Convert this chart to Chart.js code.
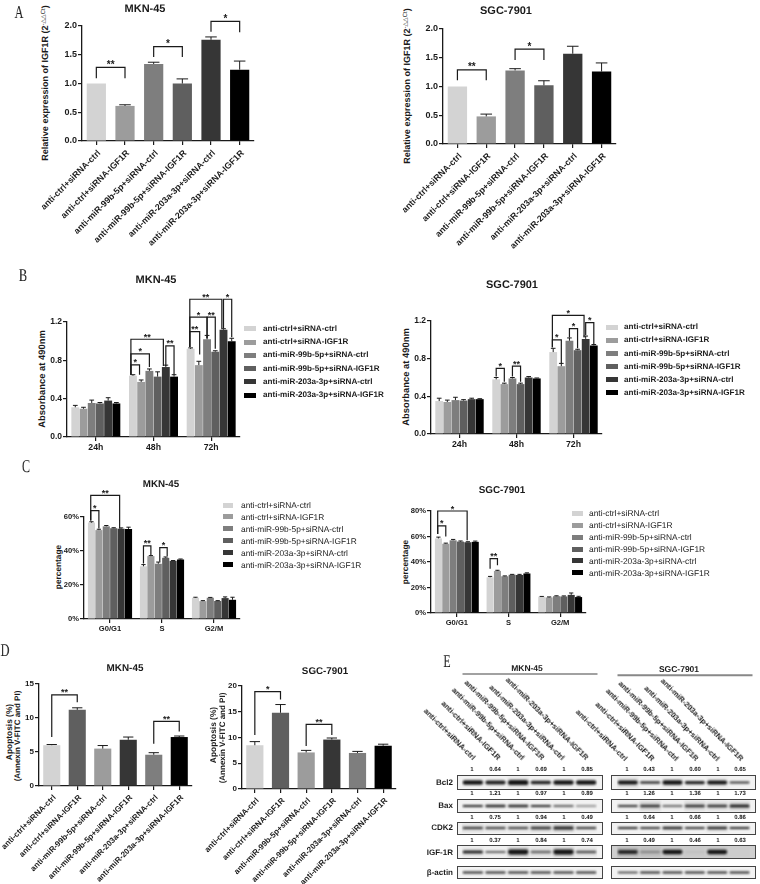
<!DOCTYPE html>
<html>
<head>
<meta charset="utf-8">
<title>IGF1R figure</title>
<script src="https://cdn.jsdelivr.net/npm/chart.js@4"></script>
<style>
html, body { margin: 0; padding: 0; background: #fff; }
#page { position: relative; width: 760px; height: 884px; overflow: hidden; font-family: "Liberation Sans", Arial, sans-serif; color: #1a1a1a; text-rendering: geometricPrecision; }
#page canvas { position: absolute; }
.t { position: absolute; white-space: nowrap; line-height: 1; will-change: transform; }
.t sup { font-size: 6px; font-weight: normal; vertical-align: baseline; position: relative; top: -3px; }
.strip { position: absolute; box-sizing: border-box; border: 1px solid #444; }
.swatch { position: absolute; }
</style>
</head>
<body>
<div id="page"></div>
<script>
// ---- data ----
var groups6 = ['anti-ctrl+siRNA-ctrl', 'anti-ctrl+siRNA-IGF1R', 'anti-miR-99b-5p+siRNA-ctrl', 'anti-miR-99b-5p+siRNA-IGF1R', 'anti-miR-203a-3p+siRNA-ctrl', 'anti-miR-203a-3p+siRNA-IGF1R'];
var hours = ['24h', '48h', '72h'];
var phases = ['G0/G1', 'S', 'G2/M'];
var proteins = ['Bcl2', 'Bax', 'CDK2', 'IGF-1R', 'β-actin'];

// A: qPCR
var a1Values = [1.0, 0.61, 1.34, 1.0, 1.76, 1.24];
var a1Err = [0, 0.02, 0.03, 0.08, 0.05, 0.15];
var a2Values = [1.0, 0.48, 1.28, 1.02, 1.57, 1.26];
var a2Err = [0, 0.04, 0.03, 0.08, 0.13, 0.15];
// brackets: from bar, to bar, top, left leg end, right leg end, stars
var a1Brackets = [[0, 1, 1.28, 1.09, 1.09, '**'], [2, 3, 1.64, 1.46, 1.46, '*'], [4, 5, 2.08, 1.9, 1.89, '*']];
var a2Brackets = [[0, 1, 1.29, 1.11, 1.11, '**'], [2, 3, 1.65, 1.46, 1.46, '*']];

// B: absorbance, one row per series (24h, 48h, 72h)
var b1Values = [[0.31, 0.64, 0.92], [0.295, 0.575, 0.75], [0.355, 0.69, 1.02], [0.35, 0.63, 0.89], [0.38, 0.73, 1.12], [0.35, 0.63, 1.0]];
var b1Err = [[0.02, 0.01, 0.01], [0.015, 0.02, 0.04], [0.03, 0.02, 0.04], [0.01, 0.05, 0.01], [0.03, 0.02, 0.01], [0.01, 0.02, 0.03]];
var b2Values = [[0.35, 0.58, 0.87], [0.34, 0.53, 0.72], [0.36, 0.59, 0.99], [0.355, 0.53, 0.89], [0.37, 0.6, 1.01], [0.37, 0.59, 0.94]];
var b2Err = [[0.03, 0.02, 0.04], [0.02, 0.01, 0.03], [0.03, 0.01, 0.03], [0.01, 0.01, 0.01], [0.01, 0.01, 0.03], [0.005, 0.005, 0.01]];
var b1Brackets = [
    [5.75, 9.7, 1.02, 0.65, 0.74, '**'], [5.75, 8, 0.868, 0.65, 0.73, '*'], [5.75, 6.8, 0.753, 0.65, 0.65, '*'], [10, 11, 0.95, 0.74, 0.65, '**'],
    [11.9, 15.8, 1.4375, 0.94, 1.135, '**'], [11.9, 14, 1.25, 0.94, 1.03, '*'], [11.9, 13.1, 1.1, 0.94, 0.86, '**'], [14, 15, 1.25, 1.03, 0.92, '**'], [16, 17, 1.4375, 1.135, 1.04, '*']
];
var b2Brackets = [
    [6, 7, 0.697, 0.61, 0.556, '*'], [8, 9, 0.72, 0.61, 0.556, '**'],
    [11.9, 15.8, 1.26, 0.92, 1.025, '*'], [11.9, 13, 1.0, 0.92, 0.75, '*'], [14, 15, 1.12, 1.025, 0.91, '*'], [16, 17, 1.183, 1.05, 0.954, '*']
];

// C: cell cycle, one row per series (G0/G1, S, G2/M)
var c1Values = [[56.7, 31, 12.5], [52.3, 37, 10.5], [54.5, 32.5, 12.5], [53.4, 36, 10.6], [53.1, 34.2, 12.3], [53, 35, 11.3]];
var c1Err = [[0.5, 1, 0.3], [0.5, 0.3, 0.3], [0.5, 1, 0.2], [0.3, 0.5, 0.2], [0.5, 0.2, 0.7], [1, 0.3, 1.5]];
var c2Values = [[58.5, 28, 12.8], [54.3, 33, 12.2], [57, 28.8, 13.2], [56, 30, 13], [55.5, 29.8, 14.2], [55.8, 31, 12.5]];
var c2Err = [[1, 0.7, 0.2], [0.5, 0.5, 0.4], [0.7, 0.3, 0.3], [0.5, 0.3, 0.4], [0.4, 0.5, 1.5], [0.6, 0.5, 0.6]];
var c1Brackets = [[-0.1, 3.8, 72.7, 58, 53.3, '**'], [-0.1, 1, 63.7, 58, 53.3, '*'], [6, 7, 43, 32.7, 37.6, '**'], [8.2, 9.2, 42, 33.7, 37, '*']];
var c2Brackets = [[-0.1, 3.9, 80, 62, 57, '*'], [-0.1, 1, 68.4, 62, 60, '*'], [6, 7, 42.6, 34.8, 37.4, '**']];

// D: apoptosis
var d1Values = [6.0, 11.2, 5.5, 6.8, 4.6, 7.2];
var d1Err = [0.1, 0.3, 0.45, 0.4, 0.3, 0.15];
var d2Values = [8.5, 14.8, 7.1, 9.6, 7.0, 8.4];
var d2Err = [0.7, 1.6, 0.4, 0.3, 0.3, 0.3];
var d1Brackets = [[0, 1, 13.4, 7.2, 12.3, '**'], [4, 5, 9.5, 6.2, 8, '**']];
var d2Brackets = [[0, 1, 18.9, 10.5, 17.4, '*'], [2, 3, 12.55, 8.35, 10.5, '**']];

// E: band ratios printed over the blots
var e1Ratios = [['1', '0.64', '1', '0.69', '1', '0.85'], ['1', '1.21', '1', '0.97', '1', '0.89'], ['1', '0.75', '1', '0.94', '1', '0.49'], ['1', '0.37', '1', '0.84', '1', '0.74']];
var e2Ratios = [['1', '0.43', '1', '0.60', '1', '0.65'], ['1', '1.26', '1', '1.36', '1', '1.73'], ['1', '0.64', '1', '0.66', '1', '0.86'], ['1', '0.49', '1', '0.46', '1', '0.63']];
// band thickness and darkness per lane, estimated by eye
var e1Thick = [[0.34, 0.32, 0.4, 0.26, 0.34, 0.36], [0.18, 0.22, 0.2, 0.18, 0.12, 0.1], [0.22, 0.22, 0.22, 0.26, 0.3, 0.2], [0.26, 0.14, 0.4, 0.2, 0.4, 0.2], [0.16, 0.2, 0.18, 0.18, 0.16, 0.18]];
var e1Dark = [[0.95, 0.9, 0.95, 0.9, 0.95, 0.95], [0.9, 0.9, 0.9, 0.9, 0.85, 0.8], [0.85, 0.8, 0.8, 0.85, 0.9, 0.85], [0.9, 0.85, 0.95, 0.6, 0.95, 0.7], [0.9, 0.9, 0.9, 0.9, 0.9, 0.9]];
var e1Haze = [[0, 0, 0.06, 0, 0, 0], [0, 0, 0, 0, 0, 0], [0.1, 0.06, 0.06, 0.1, 0.14, 0.04], [0.05, 0.02, 0.16, 0.08, 0.16, 0.06], [0, 0, 0, 0, 0, 0]];
var e2Thick = [[0.32, 0.18, 0.36, 0.25, 0.32, 0.16], [0.16, 0.22, 0.14, 0.22, 0.2, 0.26], [0.22, 0.18, 0.25, 0.2, 0.26, 0.2], [0.32, 0.18, 0.36, 0.05, 0.36, 0.02], [0.14, 0.16, 0.16, 0.18, 0.16, 0.16]];
var e2Dark = [[0.95, 0.85, 0.95, 0.9, 0.95, 0.85], [0.85, 0.85, 0.8, 0.85, 0.85, 0.9], [0.9, 0.85, 0.9, 0.85, 0.9, 0.9], [0.85, 0.35, 0.95, 0.2, 0.95, 0.1], [0.9, 0.9, 0.9, 0.9, 0.9, 0.9]];
var e2Haze = [[0.08, 0, 0.04, 0, 0.03, 0], [0.02, 0.12, 0.01, 0.1, 0.08, 0.1], [0, 0, 0.03, 0, 0.06, 0], [0.14, 0.1, 0.03, 0.03, 0.03, 0.01], [0, 0, 0, 0, 0, 0]];

// ---- look ----
var greys = ['#d3d3d3', '#9c9c9c', '#7e7e7e', '#5f5f5f', '#363636', '#000000'];
var greysD = ['#d3d3d3', '#5f5f5f', '#9c9c9c', '#363636', '#7e7e7e', '#000000'];
var ink = '#1a1a1a';
var page = document.getElementById('page');

Chart.defaults.font.family = '"Liberation Sans", Arial, sans-serif';
Chart.defaults.color = ink;
Chart.defaults.animation = false;
Chart.defaults.responsive = false;

// whiskers, upward only, taken from dataset.err
var errorBars = {
    id: 'errorBars',
    afterDatasetsDraw: function(chart) {
        var ctx = chart.ctx, y = chart.scales.y;
        ctx.save();
        ctx.strokeStyle = ink;
        ctx.lineWidth = 1;
        chart.data.datasets.forEach(function(ds, i) {
            chart.getDatasetMeta(i).data.forEach(function(bar, j) {
                if (!ds.err[j]) return;
                var top = y.getPixelForValue(ds.data[j] + ds.err[j]);
                var half = bar.width * 0.3;
                ctx.beginPath();
                ctx.moveTo(bar.x, bar.y);
                ctx.lineTo(bar.x, top);
                ctx.moveTo(bar.x - half, top);
                ctx.lineTo(bar.x + half, top);
                ctx.stroke();
            });
        });
        ctx.restore();
    }
};

// significance brackets
var brackets = {
    id: 'brackets',
    afterDraw: function(chart, args, opts) {
        var ctx = chart.ctx, y = chart.scales.y, xs = [];
        var n = chart.data.datasets.length;
        chart.data.labels.forEach(function(l, g) {
            for (var d = 0; d < n; d++) xs.push(chart.getDatasetMeta(d).data[g].x);
        });
        var step = n > 1 ? xs[1] - xs[0] : 0;
        function barX(p) {
            var b = Math.round(p);
            return xs[b] + (p - b) * step;
        }
        ctx.save();
        ctx.strokeStyle = ink;
        ctx.fillStyle = ink;
        ctx.lineWidth = 1.2;
        ctx.textAlign = 'center';
        ctx.textBaseline = 'alphabetic';
        ctx.font = 'bold ' + opts.star + 'px "Liberation Sans"';
        (opts.list || []).forEach(function(b) {
            var x0 = barX(b[0]), x1 = barX(b[1]), top = y.getPixelForValue(b[2]);
            ctx.beginPath();
            ctx.moveTo(x0, y.getPixelForValue(b[3]));
            ctx.lineTo(x0, top);
            ctx.lineTo(x1, top);
            ctx.lineTo(x1, y.getPixelForValue(b[4]));
            ctx.stroke();
            ctx.fillText(b[5], (x0 + x1) / 2, top + 0.5);
        });
        ctx.restore();
    }
};

// soften the blot bands
var blotBlur = {
    id: 'blotBlur',
    beforeDatasetsDraw: function(chart) { chart.ctx.save(); chart.ctx.filter = 'blur(0.8px)'; },
    afterDatasetsDraw: function(chart) { chart.ctx.restore(); }
};

function txt(html, x, y, style, rot, anchor) {
    var d = document.createElement('div');
    d.className = 't';
    d.innerHTML = html;
    d.style.left = x + 'px';
    d.style.top = y + 'px';
    var tx = anchor === 'end' ? '-100%' : '-50%';
    d.style.transformOrigin = anchor === 'end' ? '100% 50%' : '50% 50%';
    d.style.transform = 'translate(' + tx + ',-50%)' + (rot ? ' rotate(' + rot + 'deg)' : '');
    if (rot === -90) d.style.willChange = 'auto'; // axis titles go pale on their own layer
    for (var k in style) d.style[k] = style[k];
    page.appendChild(d);
    return d;
}

function letter(s, x, y) {
    txt(s, x, y, { fontFamily: '"Liberation Serif", serif', fontSize: '18px' }).style.transform += ' scaleX(0.68)';
}

function legend(x, y, gap, swatchW, textX, font) {
    groups6.forEach(function(name, i) {
        var s = document.createElement('div');
        s.className = 'swatch';
        s.style.cssText = 'left:' + x + 'px;top:' + (y + i * gap - 2.5) + 'px;width:' + swatchW + 'px;height:5px;background:' + greys[i];
        page.appendChild(s);
        var t = txt(name, textX, y + i * gap, font);
        t.style.transform = 'translate(0,-50%)';
    });
}

// o: left/right/top/bottom of the plot in page pixels, gutters around it
function barPanel(o) {
    var gl = o.gl || 44, gr = 6, gt = o.gt || 30, gb = o.gb || 100;
    var c = document.createElement('canvas');
    c.width = o.right - o.left + gl + gr;
    c.height = o.bottom - o.top + gt + gb;
    c.style.left = (o.left - gl) + 'px';
    c.style.top = (o.top - gt) + 'px';
    page.appendChild(c);
    new Chart(c, {
        type: 'bar',
        data: { labels: o.labels, datasets: o.datasets },
        plugins: [errorBars, brackets],
        options: {
            layout: { padding: { top: gt, right: gr, left: 0, bottom: 0 } },
            plugins: { legend: { display: false }, tooltip: { enabled: false }, brackets: { list: o.brackets, star: o.star || 10 } },
            scales: {
                x: {
                    afterFit: function(s) { s.height = gb; s.paddingLeft = 0; s.paddingRight = 0; },
                    border: { color: ink, width: 1.3 },
                    grid: { offset: false, drawOnChartArea: false, color: ink, lineWidth: 1.2, tickLength: 4 },
                    ticks: { autoSkip: false, padding: o.rotate ? 3 : 1, labelOffset: o.rotate ? 3 : 0, maxRotation: o.rotate || 0, minRotation: o.rotate || 0, color: ink, font: { size: o.xFont, weight: 'bold' } }
                },
                y: {
                    min: 0, max: o.yMax,
                    afterFit: function(s) { s.width = gl; s.paddingTop = 0; s.paddingBottom = 0; },
                    border: { color: ink, width: 1.3 },
                    grid: { drawOnChartArea: false, color: ink, lineWidth: 1.2, tickLength: 4 },
                    ticks: { stepSize: o.yStep, padding: 1, color: ink, font: { size: o.yFont, weight: 'bold' }, callback: o.yFmt }
                }
            }
        }
    });
}

function single(values, err, colors) {
    return [{ data: values, err: err, backgroundColor: colors, barPercentage: 0.67, categoryPercentage: 1 }];
}
function grouped(values, err) {
    return values.map(function(v, i) {
        return { label: groups6[i], data: v, err: err[i], backgroundColor: greys[i], barPercentage: 0.96, categoryPercentage: 0.855 };
    });
}
function oneDecimal(v) { return v.toFixed(1); }
function pct(v) { return v + '%'; }
function whole(v) { return v; }

// ---- panel A ----
letter('A', 19, 12);
txt('MKN-45', 145, 9, { fontSize: '11px', fontWeight: 'bold' });
txt('Relative expression of IGF1R (2<sup>-△△Ct</sup>)', 45, 83, { fontSize: '9px', fontWeight: 'bold' }, -90);
barPanel({ left: 82, right: 254, top: 26, bottom: 141.7, labels: groups6, datasets: single(a1Values, a1Err, greys), yMax: 2, yStep: 0.5, yFmt: oneDecimal, yFont: 9, xFont: 8.8, rotate: 45, brackets: a1Brackets, gl: 80, gt: 26, gb: 112 });
txt('SGC-7901', 506, 11, { fontSize: '11px', fontWeight: 'bold' });
txt('Relative expression of IGF1R (2<sup>-△△Ct</sup>)', 406.7, 86, { fontSize: '9px', fontWeight: 'bold' }, -90);
barPanel({ left: 442.7, right: 615.7, top: 28.7, bottom: 143.7, labels: groups6, datasets: single(a2Values, a2Err, greys), yMax: 2, yStep: 0.5, yFmt: oneDecimal, yFont: 9, xFont: 8.8, rotate: 45, brackets: a2Brackets, gl: 80, gt: 26, gb: 112 });

// ---- panel B ----
letter('B', 23, 275);
txt('MKN-45', 156, 280, { fontSize: '11px', fontWeight: 'bold' });
txt('Absorbance at 490nm', 42, 379.3, { fontSize: '9.4px', fontWeight: 'bold' }, -90);
barPanel({ left: 67, right: 240.7, top: 322, bottom: 437.3, labels: hours, datasets: grouped(b1Values, b1Err), yMax: 1.2, yStep: 0.4, yFmt: oneDecimal, yFont: 8.5, xFont: 8.7, brackets: b1Brackets, gt: 40, gb: 20, star: 9 });
legend(244, 328.7, 13.3, 12, 263, { fontSize: '8.1px', fontWeight: 'bold' });
txt('SGC-7901', 512, 285, { fontSize: '11px', fontWeight: 'bold' });
txt('Absorbance at 490nm', 406, 376.7, { fontSize: '9.4px', fontWeight: 'bold' }, -90);
barPanel({ left: 430.7, right: 601.7, top: 320.7, bottom: 434.3, labels: hours, datasets: grouped(b2Values, b2Err), yMax: 1.2, yStep: 0.4, yFmt: oneDecimal, yFont: 8.5, xFont: 8.7, brackets: b2Brackets, gt: 40, gb: 20, star: 9 });
legend(606, 327.3, 13.1, 12, 624, { fontSize: '8.1px', fontWeight: 'bold' });

// ---- panel C ----
letter('C', 26, 466);
txt('MKN-45', 161.3, 485, { fontSize: '9.8px', fontWeight: 'bold' });
txt('percentage', 58.3, 567.3, { fontSize: '8.3px', fontWeight: 'bold' }, -90);
barPanel({ left: 84, right: 240, top: 517, bottom: 619, labels: phases, datasets: grouped(c1Values, c1Err), yMax: 60, yStep: 20, yFmt: pct, yFont: 7.6, xFont: 7.6, brackets: c1Brackets, gt: 30, gb: 20, star: 9 });
legend(223, 505, 11.9, 10, 240.7, { fontSize: '8.35px' });
txt('SGC-7901', 501.7, 491, { fontSize: '9.9px', fontWeight: 'bold' });
txt('percentage', 405, 561.7, { fontSize: '8.3px', fontWeight: 'bold' }, -90);
barPanel({ left: 430.7, right: 585.7, top: 510.7, bottom: 612.7, labels: phases, datasets: grouped(c2Values, c2Err), yMax: 80, yStep: 20, yFmt: pct, yFont: 7.6, xFont: 7.6, brackets: c2Brackets, gt: 30, gb: 20, star: 9 });
legend(571.7, 513.3, 11.9, 11, 589, { fontSize: '8.4px' });

// ---- panel D ----
letter('D', 5, 650);
txt('MKN-45', 125, 669, { fontSize: '9.9px', fontWeight: 'bold' });
txt('Apoptosis (%)', 8.7, 732, { fontSize: '8.4px', fontWeight: 'bold' }, -90);
txt('(Annexin V-FITC and PI)', 18.3, 735.7, { fontSize: '8px', fontWeight: 'bold' }, -90);
barPanel({ left: 39, right: 192.7, top: 684, bottom: 786.7, labels: groups6, datasets: single(d1Values, d1Err, greysD), yMax: 15, yStep: 5, yFmt: whole, yFont: 8, xFont: 8, rotate: 45, brackets: d1Brackets, gl: 39, gb: 97, star: 9 });
txt('SGC-7901', 325, 671.7, { fontSize: '9.8px', fontWeight: 'bold' });
txt('Apoptosis (%)', 212.7, 735, { fontSize: '8.4px', fontWeight: 'bold' }, -90);
txt('(Annexin V-FITC and PI)', 222.7, 737.7, { fontSize: '8px', fontWeight: 'bold' }, -90);
barPanel({ left: 242.3, right: 396.7, top: 686, bottom: 789, labels: groups6, datasets: single(d2Values, d2Err, greysD), yMax: 20, yStep: 5, yFmt: whole, yFont: 8, xFont: 8, rotate: 45, brackets: d2Brackets, gl: 40, gb: 95, star: 9 });

// ---- panel E ----
function blotStrip(x0, x1, y0, y1, padL, padR, thick, dark, haze, bg) {
    var frame = document.createElement('div');
    frame.className = 'strip';
    frame.style.cssText = 'left:' + x0 + 'px;top:' + y0 + 'px;width:' + (x1 - x0) + 'px;height:' + (y1 - y0) + 'px;background:' + bg;
    page.appendChild(frame);
    var c = document.createElement('canvas');
    c.width = x1 - x0 - 2;
    c.height = y1 - y0 - 2;
    c.style.left = (x0 + 1) + 'px';
    c.style.top = (y0 + 1) + 'px';
    page.appendChild(c);
    new Chart(c, {
        type: 'bar',
        data: {
            labels: ['1', '2', '3', '4', '5', '6'],
            datasets: [
                { data: thick.map(function(t) { return [0.5 - t / 2, 0.5 + t / 2]; }), backgroundColor: dark.map(function(a) { return 'rgba(10,10,10,' + a + ')'; }), borderRadius: 3, borderSkipped: false, barPercentage: 0.9, categoryPercentage: 1, grouped: false },
                { data: haze.map(function() { return [0.08, 0.92]; }), backgroundColor: haze.map(function(a) { return 'rgba(40,40,40,' + a + ')'; }), barPercentage: 0.95, categoryPercentage: 1, grouped: false }
            ]
        },
        plugins: [blotBlur],
        options: {
            layout: { padding: { left: padL, right: padR } },
            plugins: { legend: { display: false }, tooltip: { enabled: false } },
            scales: { x: { display: false }, y: { display: false, min: 0, max: 1 } }
        }
    });
}

var stripTops = [775, 799.3, 822.3, 845, 866];
var stripBottoms = [790, 813.3, 835, 859, 879.3];
var ratioRows = [770, 794.3, 817.7, 840.7];
var proteinRows = [782.7, 806, 828.3, 853.3, 872.7];

letter('E', 447, 661);
txt('MKN-45', 526.7, 667.7, { fontSize: '8.5px', fontWeight: 'bold' });
txt('SGC-7901', 679.3, 669, { fontSize: '8.5px', fontWeight: 'bold' });
txt('', 529.5, 674, { width: '135px', height: '1px', background: '#444' });
txt('', 685, 674.7, { width: '135px', height: '1.5px', background: '#888' });

var e1LabelEnds = [474, 499, 522.7, 543.3, 563.3, 586.7];
var e2LabelEnds = [626, 652.7, 676.7, 696.7, 718.3, 741.7];
groups6.forEach(function(name, i) {
    txt(name, e1LabelEnds[i], 759, { fontSize: '7.6px', fontWeight: 'bold' }, 45, 'end');
    txt(name, e2LabelEnds[i], 760, { fontSize: '7.6px', fontWeight: 'bold' }, 45, 'end');
});

proteins.forEach(function(p, r) {
    txt(p, 453, proteinRows[r], { fontSize: '8px', fontWeight: 'bold' }, 0, 'end');
    blotStrip(456.7, 602.7, stripTops[r], stripBottoms[r], 3.5, 4.5, e1Thick[r], e1Dark[r], e1Haze[r], '#f2f2f2');
    blotStrip(610.7, 755.7, stripTops[r], stripBottoms[r], 4.6, 4.3, e2Thick[r], e2Dark[r], e2Haze[r], r === 3 ? '#cfcfcf' : '#f2f2f2');
});
ratioRows.forEach(function(y, r) {
    for (var i = 0; i < 6; i++) {
        txt(e1Ratios[r][i], 471.7 + i * 23, y, { fontSize: '6px', fontWeight: 'bold' });
        txt(e2Ratios[r][i], 626.7 + i * 22.7, y, { fontSize: '6px', fontWeight: 'bold' });
    }
});
</script>
</body>
</html>
